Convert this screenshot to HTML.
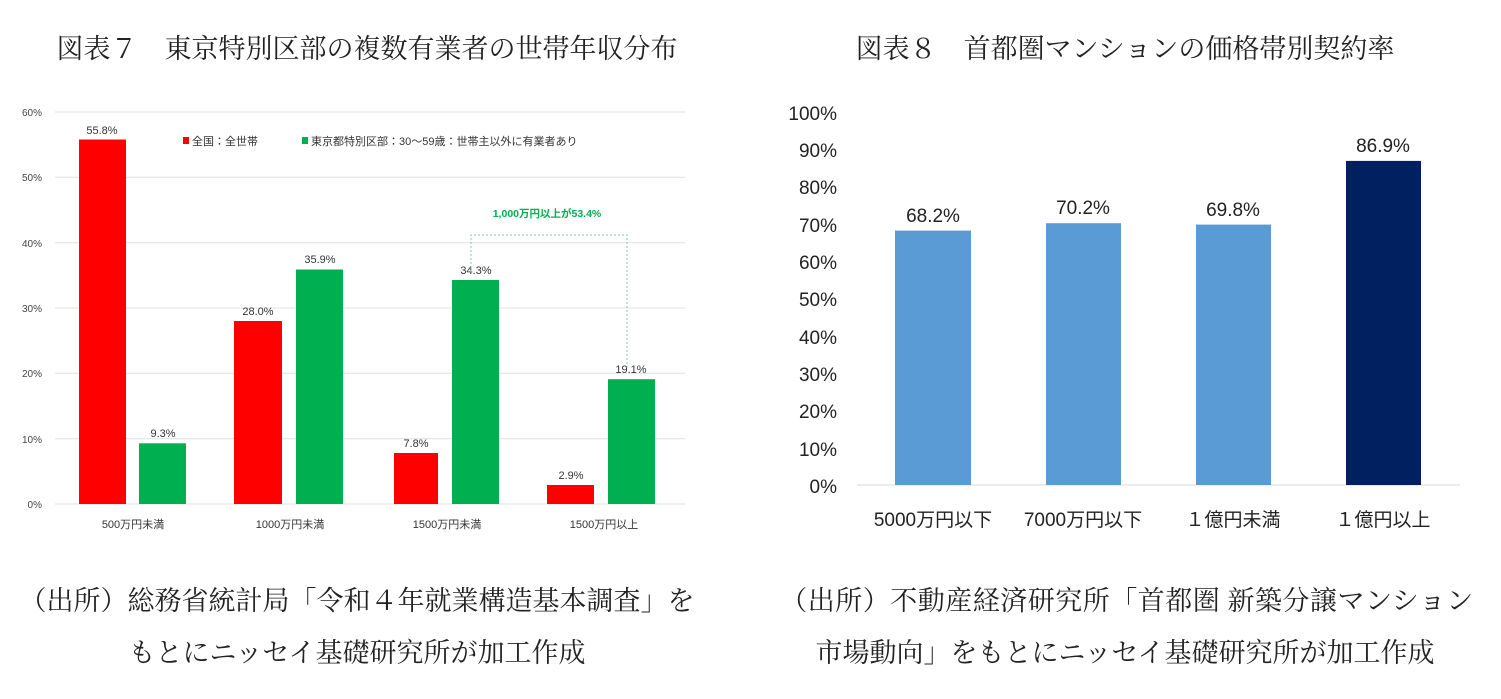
<!DOCTYPE html>
<html><head><meta charset="utf-8"><style>
body{margin:0;width:1501px;height:699px;background:#fff;overflow:hidden;position:relative}
.t{position:absolute;font-family:"Liberation Serif","Noto Serif CJK SC",serif;font-size:27px;color:#222;white-space:nowrap;transform:translateX(-50%)}
svg{position:absolute;left:0;top:0}
</style></head><body>
<div class="t" style="left:367px;top:27px">図表７　東京特別区部の複数有業者の世帯年収分布</div>
<div class="t" style="left:1125px;top:27px">図表８　首都圏マンションの価格帯別契約率</div>
<div class="t" style="left:357px;top:579px">（出所）総務省統計局「令和４年就業構造基本調査」を</div>
<div class="t" style="left:357px;top:631px">もとにニッセイ基礎研究所が加工作成</div>
<div class="t" style="left:1127px;top:579px;letter-spacing:0.5px">（出所）不動産経済研究所「首都圏 新築分譲マンション</div>
<div class="t" style="left:1125px;top:631px">市場動向」をもとにニッセイ基礎研究所が加工作成</div>
<svg width="1501" height="699" font-family="Liberation Sans, Noto Sans CJK JP, sans-serif">
<g stroke="#e0e0e0" stroke-width="1">
<line x1="55" x2="685" y1="112" y2="112"/><line x1="55" x2="685" y1="177.3" y2="177.3"/><line x1="55" x2="685" y1="242.7" y2="242.7"/><line x1="55" x2="685" y1="308" y2="308"/><line x1="55" x2="685" y1="373.3" y2="373.3"/><line x1="55" x2="685" y1="438.7" y2="438.7"/><line x1="55" x2="685" y1="504" y2="504"/>
</g>
<g font-size="10" fill="#444" text-anchor="end">
<text x="42" y="116">60%</text><text x="42" y="181">50%</text><text x="42" y="247">40%</text><text x="42" y="312">30%</text><text x="42" y="377">20%</text><text x="42" y="443">10%</text><text x="42" y="508">0%</text>
</g>
<g fill="#ff0000"><rect x="79" y="139.5" width="47" height="364.5"/><rect x="234" y="321" width="48" height="183"/><rect x="394" y="453" width="44" height="51"/><rect x="547" y="485" width="47" height="19"/></g>
<g fill="#00b050"><rect x="139" y="443.3" width="47" height="60.7"/><rect x="296" y="269.5" width="47" height="234.5"/><rect x="452" y="280" width="47" height="224"/><rect x="608" y="379.2" width="47" height="124.8"/></g>
<g font-size="11" fill="#333" text-anchor="middle">
<text x="102" y="134">55.8%</text><text x="163" y="437">9.3%</text><text x="258" y="315">28.0%</text><text x="320" y="263">35.9%</text><text x="416" y="447">7.8%</text><text x="476" y="274">34.3%</text><text x="571" y="479">2.9%</text><text x="631" y="373">19.1%</text>
<text x="133" y="528">500万円未満</text><text x="290" y="528">1000万円未満</text><text x="447" y="528">1500万円未満</text><text x="604" y="528">1500万円以上</text>
</g>
<rect x="183" y="137" width="6" height="7" fill="#ff0000"/><text x="192" y="145" font-size="11" fill="#333">全国：全世帯</text>
<rect x="302" y="137" width="6" height="7" fill="#00b050"/><text x="311" y="145" font-size="11" fill="#333">東京都特別区部：30～59歳：世帯主以外に有業者あり</text>
<text x="547" y="217" font-size="10.5" font-weight="bold" fill="#00b050" text-anchor="middle">1,000万円以上が53.4%</text>
<polyline points="471,272 471,235 627,235 627,370" fill="none" stroke="#7fd0a0" stroke-width="1" stroke-dasharray="2,2"/>
<line x1="857" x2="1460" y1="485" y2="485" stroke="#d9d9d9"/>
<g font-size="19" fill="#222" text-anchor="end">
<text x="837" y="120">100%</text><text x="837" y="157">90%</text><text x="837" y="194">80%</text><text x="837" y="232">70%</text><text x="837" y="269">60%</text><text x="837" y="306">50%</text><text x="837" y="344">40%</text><text x="837" y="381">30%</text><text x="837" y="418">20%</text><text x="837" y="456">10%</text><text x="837" y="493">0%</text>
</g>
<g fill="#5b9bd5"><rect x="895" y="230.6" width="76" height="254.4"/><rect x="1046" y="223.2" width="75" height="261.8"/><rect x="1196" y="224.6" width="75" height="260.4"/></g>
<rect x="1346" y="160.9" width="75" height="324.1" fill="#002060"/>
<g font-size="19" fill="#222" text-anchor="middle">
<text x="933" y="222">68.2%</text><text x="1083" y="214">70.2%</text><text x="1233" y="216">69.8%</text><text x="1383" y="152">86.9%</text>
<text x="933" y="526">5000万円以下</text><text x="1083" y="526">7000万円以下</text><text x="1233" y="526">１億円未満</text><text x="1383" y="526">１億円以上</text>
</g>
</svg>
</body></html>
